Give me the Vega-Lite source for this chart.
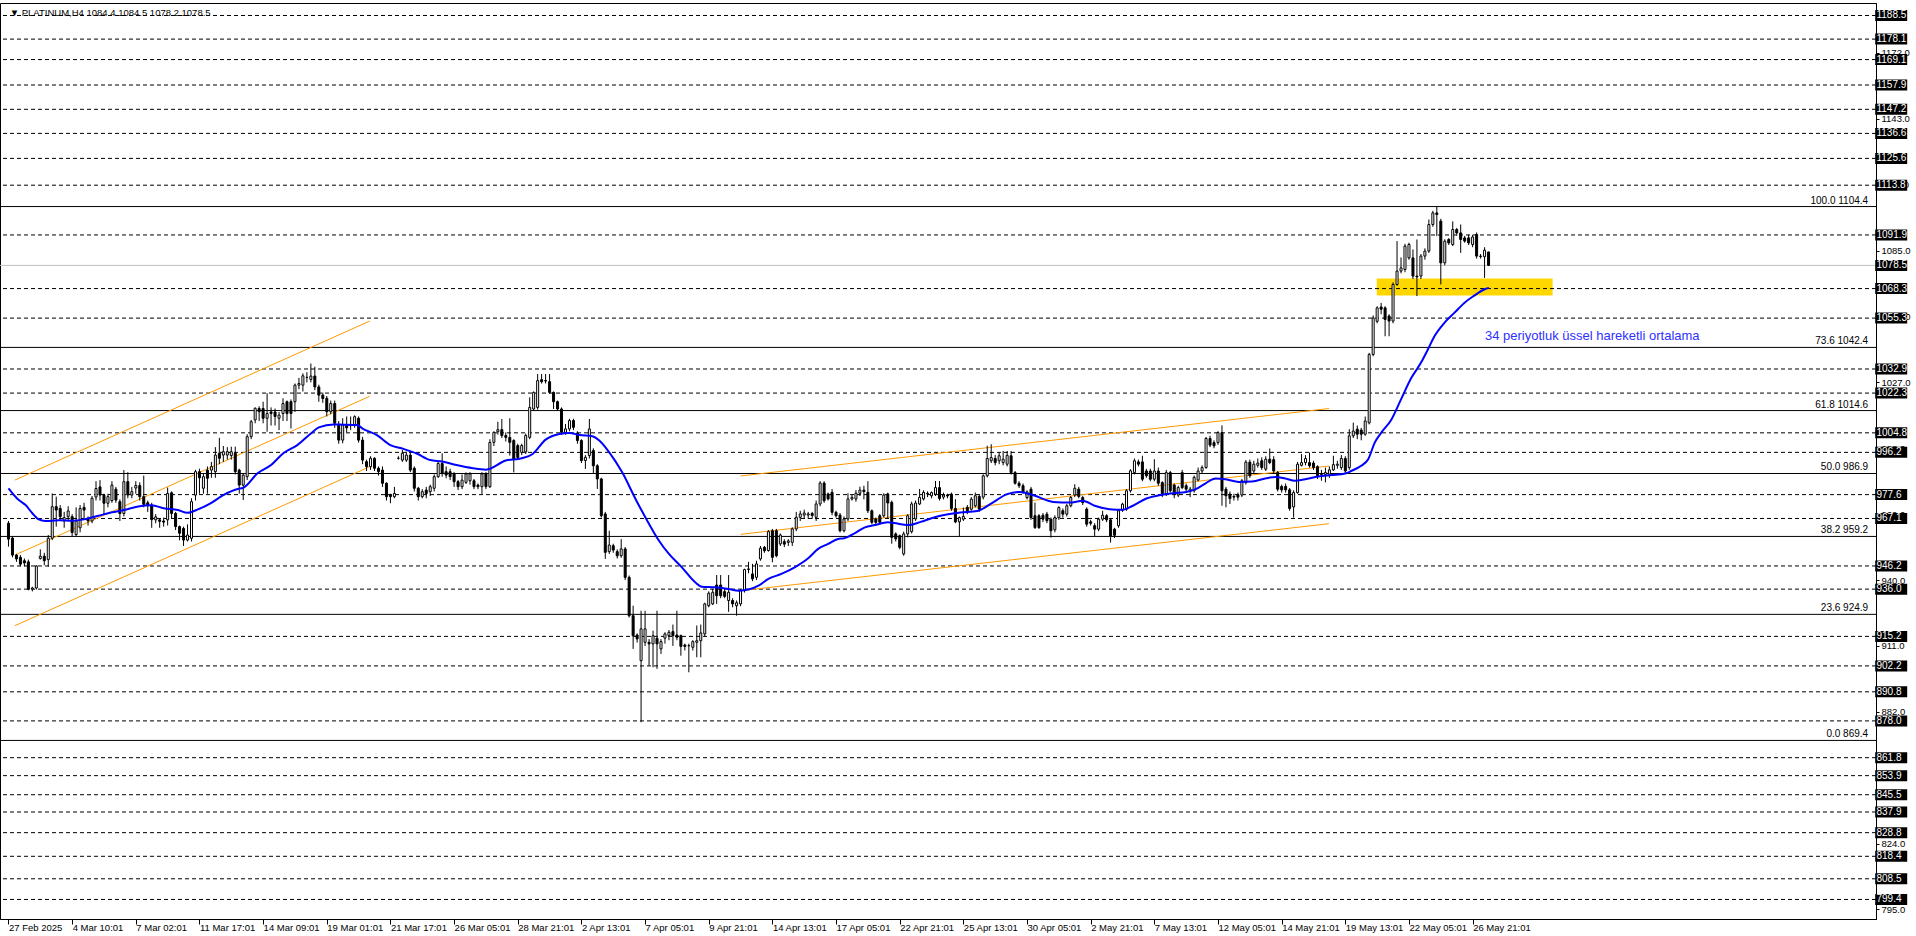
{
"$schema": "https://vega.github.io/schema/vega-lite/v6.json",
"width": 1876, "height": 916,
"autosize": "none",
"padding": {"left": 0, "top": 3, "right": 40, "bottom": 17},
"background": "white",
"config": {"view": {"stroke": "black", "strokeWidth": 1}, "font": "Liberation Sans", "text": {"font": "Liberation Sans"}},
"datasets": {
"zone": [{"k1": 343.9, "k2": 388.1, "p1": 1065.2, "p2": 1072.7}],
"levels": [
{"p":1188.5,"type":"line"},{"p":1178.1,"type":"line"},{"p":1169.1,"type":"line"},{"p":1157.9,"type":"line"},{"p":1147.2,"type":"line"},{"p":1136.6,"type":"line"},{"p":1125.6,"type":"line"},{"p":1113.8,"type":"line"},{"p":1091.9,"type":"line"},{"p":1078.5,"type":"bid"},{"p":1068.3,"type":"line"},{"p":1055.3,"type":"line"},{"p":1032.9,"type":"line"},{"p":1022.3,"type":"line"},{"p":1004.8,"type":"line"},{"p":996.2,"type":"line"},{"p":977.6,"type":"line"},{"p":967.1,"type":"line"},{"p":946.2,"type":"line"},{"p":936.0,"type":"line"},{"p":915.2,"type":"line"},{"p":902.2,"type":"line"},{"p":890.8,"type":"line"},{"p":878.0,"type":"line"},{"p":861.8,"type":"line"},{"p":853.9,"type":"line"},{"p":845.5,"type":"line"},{"p":837.9,"type":"line"},{"p":828.8,"type":"line"},{"p":818.4,"type":"line"},{"p":808.5,"type":"line"},{"p":799.4,"type":"line"}],
"fib": [{"p":1104.4,"lab":"100.0 1104.4"},{"p":1042.4,"lab":"73.6 1042.4"},{"p":1014.6,"lab":"61.8 1014.6"},{"p":986.9,"lab":"50.0 986.9"},{"p":959.2,"lab":"38.2 959.2"},{"p":924.9,"lab":"23.6 924.9"},{"p":869.4,"lab":"0.0 869.4"}],
"chan": [{"id":"A","k":1.6,"p":984.0},{"id":"A","k":90.8,"p":1054.0},{"id":"B","k":1.6,"p":951.0},{"id":"B","k":90.8,"p":1020.9},{"id":"C","k":1.6,"p":919.9},{"id":"C","k":90.8,"p":989.9},{"id":"D","k":184.0,"p":985.8},{"id":"D","k":331.9,"p":1015.5},{"id":"E","k":184.0,"p":960.1},{"id":"E","k":331.9,"p":990.2},{"id":"F","k":184.0,"p":935.3},{"id":"F","k":331.9,"p":964.8}],
"notes": [{"k":371.1,"p":1047.6,"t":"34 periyotluk üssel hareketli ortalama"}],
"head": [{"k":0.3,"p":1188.3,"t":"▼ PLATINUM,H4  1084.4 1084.5 1078.2 1078.5"}],
"ema": [{"k":0,"v":980.4},{"k":2.6,"v":975.2},{"k":4.3,"v":973.0},{"k":6,"v":969.4},{"k":7.6,"v":966.7},{"k":9.25,"v":966.0},{"k":12.6,"v":966.3},{"k":16,"v":966.1},{"k":19,"v":966.7},{"k":22.6,"v":968.3},{"k":26,"v":969.8},{"k":29,"v":970.8},{"k":32.6,"v":972.4},{"k":36,"v":972.9},{"k":39,"v":971.6},{"k":42.6,"v":970.8},{"k":45,"v":969.6},{"k":47.6,"v":971.1},{"k":51,"v":974.0},{"k":54,"v":977.4},{"k":57.6,"v":980.1},{"k":59,"v":980.6},{"k":62.6,"v":987.0},{"k":66,"v":990.6},{"k":69,"v":995.7},{"k":72.6,"v":999.4},{"k":76,"v":1004.5},{"k":78,"v":1007.2},{"k":81.75,"v":1008.5},{"k":84,"v":1008.4},{"k":87.6,"v":1008.2},{"k":89,"v":1006.7},{"k":92.6,"v":1003.8},{"k":96,"v":999.4},{"k":99,"v":997.9},{"k":102.6,"v":995.7},{"k":106,"v":992.8},{"k":109,"v":992.2},{"k":112.6,"v":990.6},{"k":116.75,"v":989.2},{"k":120,"v":988.6},{"k":125,"v":992.6},{"k":129,"v":993.6},{"k":131.75,"v":995.5},{"k":135,"v":1001.8},{"k":138.5,"v":1004.3},{"k":141,"v":1004.7},{"k":143.5,"v":1003.8},{"k":146.75,"v":1003.3},{"k":148.5,"v":1001.4},{"k":151,"v":996.2},{"k":154.25,"v":987.4},{"k":157.6,"v":975.7},{"k":161,"v":964.7},{"k":163.5,"v":957.3},{"k":166,"v":951.5},{"k":169.25,"v":945.6},{"k":172.6,"v":939.0},{"k":174.25,"v":937.1},{"k":177.6,"v":936.8},{"k":181,"v":936.1},{"k":183.5,"v":935.3},{"k":186,"v":935.8},{"k":188.5,"v":937.5},{"k":191,"v":940.5},{"k":194.25,"v":942.7},{"k":197.6,"v":945.6},{"k":201,"v":949.6},{"k":203.5,"v":953.7},{"k":206,"v":955.9},{"k":208.5,"v":958.1},{"k":210,"v":958.4},{"k":212.75,"v":960.7},{"k":215.25,"v":963.2},{"k":217.75,"v":964.2},{"k":221,"v":965.4},{"k":222.6,"v":965.1},{"k":226,"v":964.2},{"k":229.25,"v":965.6},{"k":232,"v":967.2},{"k":234.25,"v":968.3},{"k":239.25,"v":969.7},{"k":243.5,"v":970.4},{"k":246.75,"v":973.4},{"k":251,"v":977.8},{"k":254.25,"v":978.8},{"k":257.6,"v":977.3},{"k":262.6,"v":974.4},{"k":266.75,"v":974.1},{"k":270,"v":974.9},{"k":273,"v":972.7},{"k":276.75,"v":971.2},{"k":280,"v":970.9},{"k":282.6,"v":972.7},{"k":286,"v":975.9},{"k":289.25,"v":977.3},{"k":292.6,"v":978.2},{"k":296,"v":978.8},{"k":298.4,"v":980.0},{"k":300.9,"v":982.6},{"k":303.4,"v":984.7},{"k":305.9,"v":984.4},{"k":309.25,"v":983.2},{"k":312.6,"v":983.4},{"k":315.9,"v":984.7},{"k":318.4,"v":985.4},{"k":320.9,"v":984.7},{"k":323.4,"v":983.7},{"k":325.9,"v":984.4},{"k":329.25,"v":985.6},{"k":332.6,"v":986.2},{"k":336,"v":986.9},{"k":337.6,"v":988.1},{"k":340,"v":990.3},{"k":341.75,"v":993.2},{"k":343.4,"v":1000.5},{"k":345,"v":1004.8},{"k":347.6,"v":1010.7},{"k":350,"v":1019.5},{"k":352.6,"v":1029.0},{"k":355,"v":1035.6},{"k":356.75,"v":1041.5},{"k":358.4,"v":1047.3},{"k":360.9,"v":1053.2},{"k":363.4,"v":1057.6},{"k":365.9,"v":1062.0},{"k":368.4,"v":1065.2},{"k":370.9,"v":1067.9},{"k":372.1,"v":1068.6}],
"bars": [
{"k":0,"o":965,"h":966,"l":954.7,"c":958},{"k":1,"o":958.5,"h":959,"l":950,"c":951},{"k":2,"o":951,"h":951.5,"l":948,"c":949.3},{"k":3,"o":950,"h":951,"l":946,"c":947},{"k":4,"o":948.5,"h":949.5,"l":946,"c":947.5},{"k":5,"o":948,"h":949,"l":935.5,"c":935.9},{"k":6,"o":936,"h":937,"l":935,"c":936.5},{"k":7,"o":936.5,"h":946.5,"l":935.8,"c":946.2},{"k":8,"o":949.5,"h":953.5,"l":949,"c":950.5},{"k":9,"o":950.5,"h":952,"l":946.5,"c":948.5},
{"k":10,"o":949,"h":959.8,"l":945.8,"c":958.4},{"k":11,"o":958.4,"h":978.1,"l":957.6,"c":972.3},{"k":12,"o":972.3,"h":976.7,"l":963.5,"c":970.8},{"k":13,"o":971.5,"h":973,"l":966,"c":967.9},{"k":14,"o":966,"h":970,"l":963,"c":967.5},{"k":15,"o":967.9,"h":972.5,"l":966,"c":970.4},{"k":16,"o":967.9,"h":969,"l":959,"c":960.9},{"k":17,"o":960,"h":972,"l":959,"c":966},{"k":18,"o":963,"h":973,"l":961,"c":971.5},{"k":19,"o":972,"h":974,"l":967,"c":970.8},
{"k":20,"o":967,"h":968,"l":964,"c":966},{"k":21,"o":966,"h":977,"l":965,"c":976},{"k":22,"o":976.5,"h":983.5,"l":975,"c":980.3},{"k":23,"o":981,"h":984,"l":975,"c":977.4},{"k":24,"o":977.4,"h":978,"l":969,"c":973.8},{"k":25,"o":973.8,"h":978,"l":972,"c":976.7},{"k":26,"o":975,"h":983.5,"l":974,"c":981.8},{"k":27,"o":980,"h":981,"l":974,"c":975.2},{"k":28,"o":974.5,"h":975.5,"l":966,"c":969.3},{"k":29,"o":969.3,"h":988.4,"l":968,"c":983.3},
{"k":30,"o":983.3,"h":987.5,"l":976,"c":977.4},{"k":31,"o":977.4,"h":981,"l":976,"c":978.9},{"k":32,"o":980.5,"h":983.5,"l":978,"c":981.6},{"k":33,"o":981.6,"h":983,"l":975,"c":976.7},{"k":34,"o":976.7,"h":986,"l":972,"c":973.3},{"k":35,"o":974,"h":975,"l":970,"c":973},{"k":36,"o":973,"h":974,"l":963,"c":966.6},{"k":37,"o":966.5,"h":969,"l":965,"c":967.8},{"k":38,"o":966.5,"h":967,"l":963,"c":965.8},{"k":39,"o":966,"h":967.5,"l":963.5,"c":965.5},
{"k":40,"o":966.5,"h":980.7,"l":964,"c":978.1},{"k":41,"o":978.4,"h":979,"l":967,"c":969.3},{"k":42,"o":969.3,"h":970,"l":962,"c":963.5},{"k":43,"o":963.5,"h":964,"l":957.5,"c":960.6},{"k":44,"o":962.7,"h":963.5,"l":955,"c":957.6},{"k":45,"o":957.6,"h":964.5,"l":957,"c":959.8},{"k":46,"o":958.4,"h":976,"l":957,"c":974.5},{"k":47,"o":977.4,"h":988.5,"l":975,"c":987.7},{"k":48,"o":987.7,"h":989,"l":978,"c":985},{"k":49,"o":980.4,"h":987,"l":978,"c":985.5},
{"k":50,"o":988.4,"h":990,"l":978,"c":984.8},{"k":51,"o":988.4,"h":992,"l":985,"c":989.9},{"k":52,"o":987.7,"h":998.5,"l":985,"c":995},{"k":53,"o":995.8,"h":1002.6,"l":991,"c":993.6},{"k":54,"o":995,"h":999,"l":992,"c":996.5},{"k":55,"o":995,"h":998.5,"l":993,"c":996.5},{"k":56,"o":994.8,"h":998.7,"l":993,"c":996.5},{"k":57,"o":995.8,"h":998.7,"l":986.5,"c":987.7},{"k":58,"o":988.4,"h":989,"l":978,"c":981.8},{"k":59,"o":981.8,"h":987,"l":975.2,"c":986.2},
{"k":60,"o":985.5,"h":1004.2,"l":984,"c":1003.1},{"k":61,"o":1003.1,"h":1010.5,"l":1002,"c":1009.7},{"k":62,"o":1010.5,"h":1016,"l":1009,"c":1015.6},{"k":63,"o":1015.5,"h":1016.5,"l":1010,"c":1014.1},{"k":64,"o":1015.5,"h":1018.5,"l":1009,"c":1011.2},{"k":65,"o":1011.2,"h":1022.2,"l":1005.3,"c":1013.3},{"k":66,"o":1014,"h":1016,"l":1008,"c":1013.3},{"k":67,"o":1014,"h":1015.5,"l":1008,"c":1012},{"k":68,"o":1011.2,"h":1014,"l":1006,"c":1012.6},{"k":69,"o":1013.3,"h":1020,"l":1010,"c":1017.7},
{"k":70,"o":1018.5,"h":1019,"l":1010,"c":1013.3},{"k":71,"o":1018.5,"h":1019.5,"l":1006.7,"c":1013.3},{"k":72,"o":1018.5,"h":1026.5,"l":1014,"c":1025.8},{"k":73,"o":1025.8,"h":1029,"l":1024,"c":1026.5},{"k":74,"o":1025.8,"h":1031,"l":1023,"c":1029.9},{"k":75,"o":1029.2,"h":1031.5,"l":1027,"c":1029.2},{"k":76,"o":1028.3,"h":1035.3,"l":1027,"c":1029.8},{"k":77,"o":1029.8,"h":1033.9,"l":1023.6,"c":1025},{"k":78,"o":1025,"h":1026,"l":1018.5,"c":1021.4},{"k":79,"o":1021.4,"h":1022.5,"l":1018,"c":1019.9},
{"k":80,"o":1020,"h":1021,"l":1012,"c":1014.1},{"k":81,"o":1014.1,"h":1019,"l":1013,"c":1017.7},{"k":82,"o":1017.7,"h":1019,"l":1007,"c":1009},{"k":83,"o":1008.2,"h":1010,"l":1000,"c":1001.6},{"k":84,"o":1001.6,"h":1011.2,"l":1000.2,"c":1008.2},{"k":85,"o":1008,"h":1012,"l":1005,"c":1007},{"k":86,"o":1008,"h":1012,"l":1006,"c":1008.2},{"k":87,"o":1008.2,"h":1012.5,"l":1007,"c":1011.9},{"k":88,"o":1011.2,"h":1012,"l":1000.5,"c":1001.6},{"k":89,"o":1001.6,"h":1003,"l":991,"c":992.8},
{"k":90,"o":992.1,"h":993,"l":988,"c":989.9},{"k":91,"o":989.9,"h":994.5,"l":988.5,"c":993.6},{"k":92,"o":993.6,"h":994,"l":988,"c":989.2},{"k":93,"o":989.2,"h":990,"l":986,"c":987.7},{"k":94,"o":988.4,"h":990,"l":981,"c":982.6},{"k":95,"o":982.6,"h":983,"l":975,"c":976.7},{"k":96,"o":977.4,"h":978,"l":973.8,"c":976.7},{"k":97,"o":976.7,"h":981,"l":976,"c":978.1},{"k":98,"o":993.6,"h":994.5,"l":993,"c":993.6},{"k":99,"o":992.8,"h":997.3,"l":992,"c":995.8},
{"k":100,"o":992.8,"h":996.5,"l":992,"c":995},{"k":101,"o":995,"h":996.5,"l":987.5,"c":988.4},{"k":102,"o":989.2,"h":990,"l":979,"c":980.4},{"k":103,"o":980.4,"h":981,"l":975,"c":976.7},{"k":104,"o":976.7,"h":980,"l":976,"c":978.9},{"k":105,"o":979.6,"h":981,"l":976,"c":978.1},{"k":106,"o":978.9,"h":982,"l":977,"c":981.1},{"k":107,"o":980.4,"h":986.5,"l":979,"c":985.5},{"k":108,"o":985.5,"h":992.5,"l":985,"c":991.3},{"k":109,"o":991.3,"h":995.8,"l":985.5,"c":987},
{"k":110,"o":987.7,"h":990,"l":984.8,"c":986.2},{"k":111,"o":987.7,"h":989,"l":984,"c":985.5},{"k":112,"o":986.9,"h":987.5,"l":981,"c":983.3},{"k":113,"o":983.3,"h":984,"l":979.6,"c":981.1},{"k":114,"o":981.1,"h":986.5,"l":980,"c":984},{"k":115,"o":983,"h":987.4,"l":982.3,"c":986.7},{"k":116,"o":983.7,"h":987.5,"l":982,"c":986.7},{"k":117,"o":983.7,"h":984.5,"l":980,"c":981.1},{"k":118,"o":981.8,"h":982.5,"l":980,"c":981.1},{"k":119,"o":981.1,"h":987.5,"l":977.9,"c":986.7},
{"k":120,"o":986.7,"h":987.5,"l":980,"c":981.1},{"k":121,"o":981.1,"h":1002,"l":980.5,"c":1000.6},{"k":122,"o":1000.6,"h":1005.5,"l":999,"c":1005},{"k":123,"o":1005.3,"h":1009.7,"l":1004,"c":1006.2},{"k":124,"o":1006.2,"h":1010.9,"l":1002.5,"c":1003.6},{"k":125,"o":1003.6,"h":1005,"l":1001,"c":1002.8},{"k":126,"o":1002.8,"h":1011.2,"l":994.8,"c":1000.6},{"k":127,"o":1001.4,"h":1002,"l":987.4,"c":993.3},{"k":128,"o":999.2,"h":1000,"l":993,"c":994},{"k":129,"o":996.2,"h":1000,"l":995,"c":999.2},
{"k":130,"o":996.4,"h":1004.5,"l":995.5,"c":1003.6},{"k":131,"o":1002.8,"h":1020.4,"l":1002,"c":1016},{"k":132,"o":1015.3,"h":1023,"l":1014.5,"c":1022.6},{"k":133,"o":1016,"h":1030.7,"l":1015,"c":1027.8},{"k":134,"o":1028.2,"h":1030.7,"l":1026.5,"c":1027.3},{"k":135,"o":1027.8,"h":1030.7,"l":1026.5,"c":1027.6},{"k":136,"o":1027.3,"h":1030.7,"l":1021.9,"c":1022.6},{"k":137,"o":1022.6,"h":1023,"l":1015.3,"c":1018.5},{"k":138,"o":1018.5,"h":1019,"l":1014.5,"c":1015.3},{"k":139,"o":1015.3,"h":1016,"l":1004,"c":1005},
{"k":140,"o":1005,"h":1008.7,"l":1004,"c":1006.5},{"k":141,"o":1006.5,"h":1011,"l":1005.5,"c":1010.2},{"k":142,"o":1010.2,"h":1011,"l":1006,"c":1007.2},{"k":143,"o":1004.7,"h":1005.5,"l":1000,"c":1001.4},{"k":144,"o":1001.4,"h":1002,"l":991.5,"c":992.6},{"k":145,"o":992.6,"h":995,"l":988.9,"c":994},{"k":146,"o":994.8,"h":1010.9,"l":993.5,"c":1006.5},{"k":147,"o":997,"h":998,"l":986.7,"c":990.3},{"k":148,"o":990.3,"h":991,"l":980.1,"c":984.5},{"k":149,"o":984.5,"h":985,"l":967.5,"c":968.3},
{"k":150,"o":969.1,"h":970,"l":949.3,"c":952.2},{"k":151,"o":952.5,"h":961.7,"l":951.5,"c":955.4},{"k":152,"o":955.1,"h":956,"l":952,"c":953.2},{"k":153,"o":952.5,"h":953.5,"l":949.5,"c":950.7},{"k":154,"o":950.7,"h":958,"l":949.8,"c":953.7},{"k":155,"o":953.7,"h":954.5,"l":940,"c":941.2},{"k":156,"o":941.2,"h":942,"l":923.5,"c":924.3},{"k":157,"o":924.3,"h":928.7,"l":909.7,"c":915.5},{"k":158,"o":915.8,"h":916.5,"l":912.5,"c":914.1},{"k":159,"o":904.5,"h":926.5,"l":877.4,"c":918.5},
{"k":160,"o":912.6,"h":926.5,"l":911,"c":918.5},{"k":161,"o":912.6,"h":914,"l":902.3,"c":911.9},{"k":162,"o":911.9,"h":917.7,"l":901.6,"c":915.5},{"k":163,"o":914.4,"h":926.5,"l":900.9,"c":911.9},{"k":164,"o":909.7,"h":914,"l":907.5,"c":912.9},{"k":165,"o":914.4,"h":917,"l":912,"c":916.3},{"k":166,"o":915.5,"h":918,"l":913.5,"c":917},{"k":167,"o":917.3,"h":920.4,"l":911,"c":915.5},{"k":168,"o":915.8,"h":926.5,"l":913.5,"c":914.8},{"k":169,"o":915.5,"h":916,"l":906.7,"c":910.8},
{"k":170,"o":911.4,"h":912,"l":909,"c":910.8},{"k":171,"o":911.1,"h":912,"l":899.4,"c":911.1},{"k":172,"o":910.4,"h":913.5,"l":909,"c":912.9},{"k":173,"o":912.6,"h":920,"l":906,"c":913.3},{"k":174,"o":913.3,"h":920.4,"l":906,"c":916.7},{"k":175,"o":916.3,"h":930,"l":915,"c":929.5},{"k":176,"o":928.7,"h":935,"l":928,"c":934.2},{"k":177,"o":929.5,"h":936.1,"l":929,"c":934.6},{"k":178,"o":937.8,"h":942.2,"l":929.5,"c":933.1},{"k":179,"o":937.8,"h":942.2,"l":932,"c":933.1},
{"k":180,"o":934.9,"h":936,"l":932,"c":932.8},{"k":181,"o":931,"h":942.2,"l":926,"c":934.6},{"k":182,"o":931,"h":932,"l":928,"c":929.5},{"k":183,"o":928.7,"h":931,"l":924.3,"c":930},{"k":184,"o":929.5,"h":936,"l":928.5,"c":935.3},{"k":185,"o":935.3,"h":945,"l":934.5,"c":944.6},{"k":186,"o":944.6,"h":948,"l":943,"c":944.9},{"k":187,"o":942.7,"h":947.1,"l":939.5,"c":940.5},{"k":188,"o":941.2,"h":948.5,"l":940,"c":947.1},{"k":189,"o":949.3,"h":955,"l":948.5,"c":954},
{"k":190,"o":954.4,"h":955,"l":952,"c":952.9},{"k":191,"o":953,"h":962,"l":952.5,"c":961.3},{"k":192,"o":961.7,"h":962.5,"l":947.8,"c":950},{"k":193,"o":961.7,"h":962.5,"l":950,"c":950.7},{"k":194,"o":955.9,"h":960.5,"l":955,"c":959.8},{"k":195,"o":956.9,"h":958,"l":954.5,"c":955.8},{"k":196,"o":956.6,"h":958,"l":955,"c":957.2},{"k":197,"o":956.6,"h":963.2,"l":955,"c":962.5},{"k":198,"o":962.5,"h":970,"l":961.5,"c":967.6},{"k":199,"o":967.6,"h":970.5,"l":966,"c":969.1},
{"k":200,"o":968.6,"h":971,"l":967,"c":969.5},{"k":201,"o":968.6,"h":970,"l":967,"c":969.1},{"k":202,"o":969.3,"h":970,"l":967,"c":968.4},{"k":203,"o":967.6,"h":975,"l":966,"c":973.5},{"k":204,"o":973.5,"h":983.5,"l":972.5,"c":982.7},{"k":205,"o":982.7,"h":983.5,"l":974,"c":974.9},{"k":206,"o":977.9,"h":978.5,"l":975,"c":975.7},{"k":207,"o":978.6,"h":980.1,"l":968.5,"c":969.8},{"k":208,"o":969.8,"h":970.5,"l":967.5,"c":968.3},{"k":209,"o":968.6,"h":969.5,"l":961,"c":961.7},
{"k":210,"o":961.7,"h":968,"l":961,"c":966.9},{"k":211,"o":966.9,"h":978.2,"l":966,"c":975.7},{"k":212,"o":975.7,"h":977.5,"l":975,"c":976.4},{"k":213,"o":975.7,"h":979.6,"l":974.5,"c":978.2},{"k":214,"o":978.2,"h":981.1,"l":977,"c":979.6},{"k":215,"o":979.6,"h":981.5,"l":975.5,"c":978.9},{"k":216,"o":978.6,"h":983.5,"l":969.5,"c":970.5},{"k":217,"o":970.5,"h":971,"l":964.5,"c":965.4},{"k":218,"o":966.9,"h":967.5,"l":964.5,"c":965.4},{"k":219,"o":968.3,"h":969,"l":964.5,"c":965.4},
{"k":220,"o":968.3,"h":978.2,"l":967.5,"c":977.4},{"k":221,"o":977.9,"h":978.5,"l":967,"c":973.9},{"k":222,"o":974.2,"h":975,"l":956,"c":958.8},{"k":223,"o":960.3,"h":961,"l":957,"c":958.1},{"k":224,"o":959.5,"h":960,"l":953.5,"c":954.4},{"k":225,"o":951.5,"h":961.3,"l":950.7,"c":960.3},{"k":226,"o":960.3,"h":969,"l":958.8,"c":968.3},{"k":227,"o":961.3,"h":974.5,"l":960.5,"c":973.5},{"k":228,"o":966.9,"h":975,"l":966,"c":973.9},{"k":229,"o":973.5,"h":980.1,"l":973,"c":976.4},
{"k":230,"o":975.7,"h":979.5,"l":975,"c":978.6},{"k":231,"o":977.9,"h":979,"l":976.5,"c":978.2},{"k":232,"o":977.1,"h":979,"l":976,"c":978.5},{"k":233,"o":977.8,"h":983.6,"l":977,"c":980.7},{"k":234,"o":980.7,"h":983.6,"l":975,"c":975.9},{"k":235,"o":976.5,"h":978.5,"l":975.5,"c":977.4},{"k":236,"o":977.4,"h":978,"l":976,"c":977},{"k":237,"o":977.8,"h":978.5,"l":970.5,"c":971.5},{"k":238,"o":971.5,"h":975.6,"l":965,"c":965.6},{"k":239,"o":965.6,"h":968,"l":959.4,"c":967.5},
{"k":240,"o":966.8,"h":971.9,"l":966,"c":968},{"k":241,"o":972,"h":973,"l":969,"c":970.5},{"k":242,"o":971.2,"h":976.5,"l":970.5,"c":975.6},{"k":243,"o":972.7,"h":978.5,"l":972,"c":977.1},{"k":244,"o":976.8,"h":977.5,"l":970,"c":971.2},{"k":245,"o":976.5,"h":986.5,"l":975.5,"c":985.9},{"k":246,"o":985.9,"h":999.1,"l":985.2,"c":993.5},{"k":247,"o":992.5,"h":999.8,"l":991.5,"c":993.9},{"k":248,"o":993.5,"h":995,"l":990.5,"c":991.7},{"k":249,"o":992.5,"h":996,"l":991,"c":994.7},
{"k":250,"o":991.7,"h":996.8,"l":990.5,"c":993.2},{"k":251,"o":991,"h":996.8,"l":990,"c":994.9},{"k":252,"o":994.7,"h":996.8,"l":986.5,"c":987.3},{"k":253,"o":987.3,"h":988,"l":982,"c":982.6},{"k":254,"o":982.6,"h":983.5,"l":980.5,"c":981.5},{"k":255,"o":981.5,"h":982.5,"l":978,"c":978.8},{"k":256,"o":976.3,"h":979.5,"l":975.5,"c":978.8},{"k":257,"o":980,"h":981,"l":966.5,"c":967.5},{"k":258,"o":968.3,"h":974.1,"l":962.5,"c":963.1},{"k":259,"o":968.3,"h":969,"l":962.5,"c":963.1},
{"k":260,"o":968.5,"h":969.5,"l":965.5,"c":966.8},{"k":261,"o":969,"h":970,"l":965,"c":966.1},{"k":262,"o":966.8,"h":967.5,"l":958.7,"c":961.7},{"k":263,"o":962.1,"h":968.5,"l":961,"c":967.5},{"k":264,"o":967.5,"h":972.5,"l":966.5,"c":971.9},{"k":265,"o":970.5,"h":971.5,"l":967.5,"c":969},{"k":266,"o":969,"h":973.5,"l":968,"c":972.7},{"k":267,"o":972.7,"h":977,"l":972,"c":976.3},{"k":268,"o":977.4,"h":982.2,"l":976.5,"c":980.4},{"k":269,"o":980,"h":981,"l":976,"c":976.8},
{"k":270,"o":976.3,"h":977,"l":973,"c":974.1},{"k":271,"o":971.2,"h":972,"l":963.5,"c":964.6},{"k":272,"o":965.6,"h":966.5,"l":964,"c":965},{"k":273,"o":963.9,"h":965,"l":959.4,"c":962.4},{"k":274,"o":962.4,"h":967.5,"l":961.5,"c":966.8},{"k":275,"o":966.8,"h":970.5,"l":966,"c":968.5},{"k":276,"o":968.3,"h":969,"l":965.5,"c":966.5},{"k":277,"o":966.5,"h":967,"l":956.5,"c":959.4},{"k":278,"o":962.4,"h":963,"l":958.5,"c":959.7},{"k":279,"o":963.9,"h":971,"l":963,"c":970.5},
{"k":280,"o":970.8,"h":974,"l":970,"c":973.4},{"k":281,"o":971.2,"h":980,"l":970.5,"c":979.3},{"k":282,"o":979.3,"h":988.8,"l":978.5,"c":988.1},{"k":283,"o":987.3,"h":993.5,"l":986.5,"c":992.5},{"k":284,"o":992,"h":993,"l":990,"c":991},{"k":285,"o":992,"h":994.7,"l":983.5,"c":984.4},{"k":286,"o":988,"h":989,"l":985,"c":985.9},{"k":287,"o":988,"h":989,"l":983.5,"c":984.4},{"k":288,"o":984.4,"h":993.2,"l":983.5,"c":988},{"k":289,"o":988,"h":989.5,"l":981.5,"c":982.6},
{"k":290,"o":982.9,"h":983.5,"l":976.5,"c":977.4},{"k":291,"o":977.8,"h":988.5,"l":977,"c":987.3},{"k":292,"o":987.3,"h":988,"l":978.5,"c":979.3},{"k":293,"o":981.8,"h":982.5,"l":976,"c":977.8},{"k":294,"o":977.4,"h":981.5,"l":976.5,"c":980.7},{"k":295,"o":987.3,"h":988.5,"l":980,"c":980.7},{"k":296,"o":981.5,"h":982.5,"l":979,"c":980},{"k":297,"o":979,"h":981,"l":976.5,"c":980},{"k":298,"o":979.3,"h":986,"l":978.5,"c":985.2},{"k":299,"o":984,"h":989.5,"l":983.5,"c":988},
{"k":300,"o":988,"h":990.5,"l":987,"c":989.5},{"k":301,"o":989.5,"h":1003,"l":989,"c":1002.3},{"k":302,"o":1002.3,"h":1003.5,"l":998.5,"c":999.4},{"k":303,"o":1000.5,"h":1001.5,"l":998,"c":999.1},{"k":304,"o":1000.5,"h":1005.5,"l":999.5,"c":1004.9},{"k":305,"o":1004.9,"h":1008.1,"l":972.7,"c":979.3},{"k":306,"o":980,"h":981,"l":972,"c":977.1},{"k":307,"o":977.8,"h":979,"l":973.5,"c":975.9},{"k":308,"o":976.8,"h":978,"l":975,"c":976.5},{"k":309,"o":977.5,"h":978.5,"l":975,"c":976.5},
{"k":310,"o":977.4,"h":984.5,"l":976.5,"c":983.7},{"k":311,"o":982.9,"h":992.8,"l":982,"c":991.9},{"k":312,"o":991.9,"h":993,"l":985,"c":985.9},{"k":313,"o":988,"h":992.5,"l":987,"c":991},{"k":314,"o":990.5,"h":993.5,"l":989.5,"c":991.5},{"k":315,"o":992.5,"h":994,"l":988.5,"c":989.5},{"k":316,"o":988.8,"h":994.5,"l":988,"c":993.2},{"k":317,"o":993.2,"h":997.9,"l":991,"c":991.7},{"k":318,"o":993,"h":994.5,"l":987,"c":988},{"k":319,"o":987.3,"h":988,"l":979,"c":980},
{"k":320,"o":981.2,"h":982,"l":978.5,"c":979.7},{"k":321,"o":981.2,"h":982.5,"l":978.5,"c":979.7},{"k":322,"o":979.7,"h":980.5,"l":970.5,"c":971.5},{"k":323,"o":972.2,"h":979.5,"l":967.5,"c":978.5},{"k":324,"o":978.5,"h":992,"l":978,"c":991},{"k":325,"o":990.5,"h":995.5,"l":990,"c":991.7},{"k":326,"o":991.7,"h":995,"l":990.5,"c":993.5},{"k":327,"o":991.7,"h":996.1,"l":989.5,"c":990.3},{"k":328,"o":991.5,"h":992.5,"l":988.5,"c":989.5},{"k":329,"o":989.9,"h":990.5,"l":984.5,"c":985.9},
{"k":330,"o":986.8,"h":988.5,"l":983.7,"c":986.5},{"k":331,"o":986.5,"h":989.5,"l":983,"c":987.3},{"k":332,"o":986.6,"h":990,"l":985,"c":988.5},{"k":333,"o":988.5,"h":994.7,"l":988,"c":990.8},{"k":334,"o":990.5,"h":992.5,"l":989,"c":991},{"k":335,"o":989.5,"h":995,"l":988.5,"c":993.5},{"k":336,"o":993.5,"h":994.5,"l":987,"c":988},{"k":337,"o":989.5,"h":1006.4,"l":988.5,"c":1003.5},{"k":338,"o":1003.5,"h":1009.3,"l":1002.5,"c":1005.6},{"k":339,"o":1006.4,"h":1008,"l":1002,"c":1004.2},
{"k":340,"o":1006,"h":1007,"l":1001.5,"c":1004.2},{"k":341,"o":1004.2,"h":1012,"l":1003.5,"c":1010},{"k":342,"o":1009.2,"h":1040,"l":1008.5,"c":1039.3},{"k":343,"o":1039.3,"h":1056.5,"l":1038.5,"c":1055.4},{"k":344,"o":1053.9,"h":1060.5,"l":1053,"c":1059.8},{"k":345,"o":1060.2,"h":1062,"l":1057,"c":1059.2},{"k":346,"o":1059.8,"h":1060.5,"l":1047.3,"c":1054.7},{"k":347,"o":1056.2,"h":1057,"l":1047.3,"c":1054},{"k":348,"o":1054,"h":1071,"l":1053,"c":1070.1},{"k":349,"o":1070.1,"h":1089.2,"l":1069.5,"c":1076},
{"k":350,"o":1076,"h":1082,"l":1075,"c":1077.4},{"k":351,"o":1076.7,"h":1088,"l":1075.5,"c":1087},{"k":352,"o":1081.8,"h":1088.5,"l":1081,"c":1087.7},{"k":353,"o":1081.8,"h":1085.5,"l":1072.5,"c":1073.8},{"k":354,"o":1073.8,"h":1089.9,"l":1065,"c":1073.4},{"k":355,"o":1073.8,"h":1083.5,"l":1072.5,"c":1082.6},{"k":356,"o":1082.6,"h":1086,"l":1081,"c":1084.8},{"k":357,"o":1084.8,"h":1098.7,"l":1084,"c":1096.5},{"k":358,"o":1096.5,"h":1102.5,"l":1095.5,"c":1101.6},{"k":359,"o":1101.6,"h":1104.4,"l":1091.4,"c":1100.9},
{"k":360,"o":1098,"h":1099,"l":1070.1,"c":1079.6},{"k":361,"o":1079.6,"h":1090,"l":1078.5,"c":1089.2},{"k":362,"o":1089.9,"h":1090.5,"l":1087.5,"c":1088.4},{"k":363,"o":1087.7,"h":1097.9,"l":1087,"c":1094.3},{"k":364,"o":1094.3,"h":1095,"l":1091.5,"c":1092.8},{"k":365,"o":1092.8,"h":1096.5,"l":1084,"c":1089.9},{"k":366,"o":1090.6,"h":1091.5,"l":1088.5,"c":1089.2},{"k":367,"o":1090.6,"h":1092,"l":1087.5,"c":1088.4},{"k":368,"o":1087.7,"h":1092,"l":1086.5,"c":1091},{"k":369,"o":1092.1,"h":1093,"l":1081.5,"c":1082.6},
{"k":370,"o":1082.6,"h":1083.5,"l":1081.5,"c":1082.4},{"k":371,"o":1082.3,"h":1086.5,"l":1073,"c":1085.2},{"k":372,"o":1084.4,"h":1084.5,"l":1078.2,"c":1078.5}
]
},
"layer": [
{"data": {"name": "zone"}, "mark": {"type": "rect", "color": "#FFD700"},
 "encoding": {
  "x": {"field": "k1", "type": "quantitative", "scale": {"domain": [-0.875, 468.125], "nice": false, "zero": false},
   "axis": {"title": null, "orient": "bottom", "zindex": 0, "values": [0,16,32,48,64,80,96,112,128,144,160,176,192,208,224,240,256,272,288,304,320,336,352,368],
    "labelExpr": "['27 Feb 2025','4 Mar 10:01','7 Mar 02:01','11 Mar 17:01','14 Mar 09:01','19 Mar 01:01','21 Mar 17:01','26 Mar 05:01','28 Mar 21:01','2 Apr 13:01','7 Apr 05:01','9 Apr 21:01','14 Apr 13:01','17 Apr 05:01','22 Apr 21:01','25 Apr 13:01','30 Apr 05:01','2 May 21:01','7 May 13:01','12 May 05:01','14 May 21:01','19 May 13:01','22 May 05:01','26 May 21:01'][round(datum.value/16)]",
    "labelAlign": "left", "labelBaseline": "top", "labelPadding": -2, "labelOffset": 0, "labelFontSize": 9.5, "labelFont": "Liberation Sans", "labelColor": "black",
    "tickSize": 5, "tickColor": "black", "domainColor": "black", "grid": false, "labelOverlap": false, "labelFlush": false}},
  "x2": {"field": "k2"},
  "y": {"field": "p1", "type": "quantitative", "scale": {"domain": [790.8, 1194.0], "nice": false, "zero": false},
   "axis": {"title": null, "orient": "right", "zindex": 0, "values": [795.0,809.5,824.0,838.5,853.0,867.5,882.0,896.5,911.0,925.5,940.0,954.5,969.0,983.5,998.0,1012.5,1027.0,1041.5,1056.0,1070.5,1085.0,1099.5,1114.0,1128.5,1143.0,1157.5,1172.0,1186.5],
    "format": ".1f", "labelFontSize": 9.5, "labelFont": "Liberation Sans", "labelColor": "black", "labelPadding": 2, "tickSize": 3, "tickColor": "black", "domainColor": "black", "grid": false, "labelOverlap": false, "labelFlush": false}},
  "y2": {"field": "p2"}}},
{"data": {"name": "levels"}, "transform": [{"filter": "datum.type == 'line'"}],
 "mark": {"type": "rule", "color": "black", "strokeWidth": 1, "strokeDash": [4, 3]},
 "encoding": {"y": {"field": "p", "type": "quantitative", "axis": {"title": null, "orient": "right"}}}},
{"data": {"name": "levels"}, "transform": [{"filter": "datum.type == 'bid'"}],
 "mark": {"type": "rule", "color": "#C0C0C0", "strokeWidth": 1},
 "encoding": {"y": {"field": "p", "type": "quantitative", "axis": {"title": null, "orient": "right"}}}},
{"data": {"name": "fib"}, "mark": {"type": "rule", "color": "black", "strokeWidth": 1},
 "encoding": {"y": {"field": "p", "type": "quantitative", "axis": {"title": null, "orient": "right"}}}},
{"data": {"name": "fib"}, "mark": {"type": "text", "align": "right", "baseline": "bottom", "dy": -1, "fontSize": 10, "color": "black"},
 "encoding": {"x": {"datum": 467.4, "type": "quantitative", "axis": {"title": null, "orient": "bottom"}}, "y": {"field": "p", "type": "quantitative", "axis": {"title": null, "orient": "right"}}, "text": {"field": "lab"}}},
{"data": {"name": "chan"}, "mark": {"type": "line", "color": "#FF9900", "strokeWidth": 1},
 "encoding": {"x": {"field": "k", "type": "quantitative", "axis": {"title": null, "orient": "bottom"}}, "y": {"field": "p", "type": "quantitative", "axis": {"title": null, "orient": "right"}}, "detail": {"field": "id"}}},
{"data": {"name": "bars"}, "mark": {"type": "rule", "color": "black", "strokeWidth": 1},
 "encoding": {"x": {"field": "k", "type": "quantitative", "axis": {"title": null, "orient": "bottom"}}, "y": {"field": "l", "type": "quantitative", "axis": {"title": null, "orient": "right"}}, "y2": {"field": "h"}}},
{"data": {"name": "bars"}, "mark": {"type": "bar", "width": 2, "stroke": "black", "strokeWidth": 1},
 "encoding": {"x": {"field": "k", "type": "quantitative", "axis": {"title": null, "orient": "bottom"}}, "y": {"field": "o", "type": "quantitative", "axis": {"title": null, "orient": "right"}}, "y2": {"field": "c"},
  "fill": {"condition": {"test": "datum.c >= datum.o", "value": "white"}, "value": "black"}}},
{"data": {"name": "ema"}, "mark": {"type": "line", "color": "#0000FF", "strokeWidth": 2, "interpolate": "monotone"},
 "encoding": {"x": {"field": "k", "type": "quantitative", "axis": {"title": null, "orient": "bottom"}}, "y": {"field": "v", "type": "quantitative", "axis": {"title": null, "orient": "right"}}}},
{"data": {"name": "notes"}, "mark": {"type": "text", "align": "left", "baseline": "middle", "fontSize": 13, "color": "#3030FF"},
 "encoding": {"x": {"field": "k", "type": "quantitative", "axis": {"title": null, "orient": "bottom"}}, "y": {"field": "p", "type": "quantitative", "axis": {"title": null, "orient": "right"}}, "text": {"field": "t"}}},
{"data": {"name": "head"}, "mark": {"type": "text", "align": "left", "baseline": "alphabetic", "fontSize": 9.5, "color": "black"},
 "encoding": {"x": {"field": "k", "type": "quantitative", "axis": {"title": null, "orient": "bottom"}}, "y": {"field": "p", "type": "quantitative", "axis": {"title": null, "orient": "right"}}, "text": {"field": "t"}}},
{"data": {"name": "levels"}, "mark": {"type": "tick", "orient": "horizontal", "size": 32, "thickness": 11, "color": "black", "opacity": 1},
 "encoding": {"x": {"datum": 473.2, "type": "quantitative", "axis": {"title": null, "orient": "bottom"}}, "y": {"field": "p", "type": "quantitative", "axis": {"title": null, "orient": "right"}}}},
{"data": {"name": "levels"}, "mark": {"type": "text", "align": "left", "baseline": "middle", "fontSize": 10, "color": "white"},
 "encoding": {"x": {"datum": 469.5, "type": "quantitative", "axis": {"title": null, "orient": "bottom"}}, "y": {"field": "p", "type": "quantitative", "axis": {"title": null, "orient": "right"}}, "text": {"field": "p", "type": "quantitative", "format": ".1f"}}}
]
}
